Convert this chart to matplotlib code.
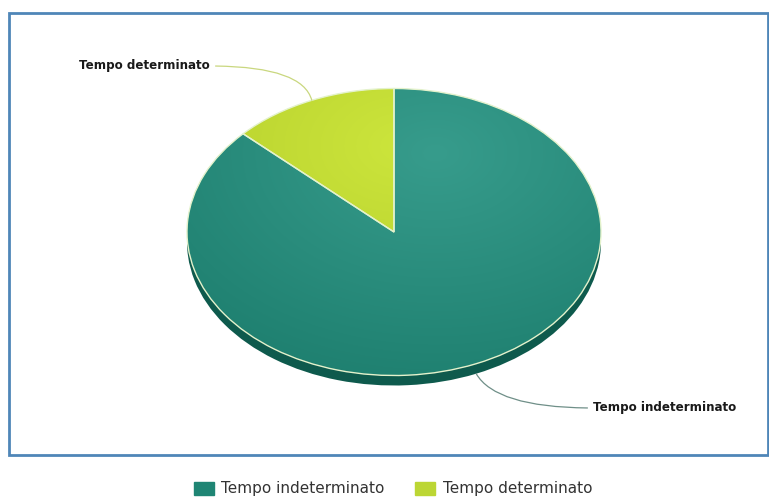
import numpy as np
import matplotlib.pyplot as plt
from matplotlib.patches import Rectangle, Patch
from matplotlib.colors import to_rgb

labels = ["Tempo indeterminato", "Tempo determinato"]
shares = [87.0, 13.0]

light_colors = ["#379c8c", "#cce53c"]
dark_colors = ["#1c7d6d", "#b9d22e"]
side_colors = ["#0e5a4d", "#8ca21f"]
legend_colors = ["#1f8574", "#bcd634"]
leader_colors = ["#6f8f88", "#c9d77e"]

W, H = 769, 499
fig = plt.figure(figsize=(W / 100, H / 100), dpi=100)
fig.patch.set_facecolor("white")

# outer panel frame
fig.add_artist(Rectangle((9 / W, (H - 455) / H), (768 - 9) / W, (455 - 13) / H,
                         transform=fig.transFigure, fill=False,
                         edgecolor="#4f86b8", linewidth=2))

# pie axes: the unit circle gets squashed into the tilted ellipse
cx, cy, rx, ry = 394, 232, 207, 143.5
lim = 1.1
ax = fig.add_axes([(cx - rx * lim) / W, (H - cy - ry * lim) / H,
                   2 * rx * lim / W, 2 * ry * lim / H])
depth = 10 / ry

side, _ = ax.pie(shares, colors=side_colors, startangle=90, counterclock=False,
                 center=(0, -depth), wedgeprops=dict(linewidth=0))
top, _ = ax.pie(shares, colors=dark_colors, startangle=90, counterclock=False,
                wedgeprops=dict(linewidth=0))
ax.set_aspect("auto")
ax.set_xlim(-lim, lim)
ax.set_ylim(-lim, lim)
ax.axis("off")

# shaded fills clipped to each wedge
gx, gy = np.meshgrid(np.linspace(-lim, lim, 400), np.linspace(-lim, lim, 400))
hot_spots = [(0.2, 0.55), (0.05, 0.6)]
spreads = [1.8, 1.1]
for w, lc, dc, hs, sp in zip(top, light_colors, dark_colors, hot_spots, spreads):
    t = np.clip(np.hypot(gx - hs[0], gy - hs[1]) / sp, 0, 1)[..., None]
    img = np.array(to_rgb(lc)) * (1 - t) + np.array(to_rgb(dc)) * t
    im = ax.imshow(img, extent=(-lim, lim, -lim, lim), origin="lower",
                   aspect="auto", zorder=2, interpolation="bilinear")
    im.set_clip_path(w)
    w.set_facecolor("none")
    w.set_edgecolor("#e4f2cc")
    w.set_linewidth(1.0)
    w.set_zorder(3)

for w in side:
    w.set_zorder(1)

# leader lines and labels
label_pos = [(593, 91), (210, 433)]
label_ha = ["left", "right"]
rel = [(0, 0.5), (1, 0.5)]
angles = [-60, 105]
for w, lab, pos, ha, rp, ang, lcol in zip(top, labels, label_pos, label_ha, rel,
                                          angles, leader_colors):
    mid = np.deg2rad((w.theta1 + w.theta2) / 2)
    x, y = np.cos(mid), np.sin(mid)
    if y < 0:
        y -= depth
    ax.annotate(lab, xy=(x, y), xycoords="data", xytext=pos,
                textcoords="figure pixels", ha=ha, va="center",
                fontsize=8.6, fontweight="bold", color="#1a1a1a",
                annotation_clip=False,
                arrowprops=dict(arrowstyle="-", color=lcol, lw=0.9,
                                connectionstyle=f"angle3,angleA=0,angleB={ang}",
                                relpos=rp, shrinkA=2, shrinkB=0))

handles = [Patch(facecolor=c, edgecolor=c) for c in legend_colors]
fig.legend(handles, labels, loc="center", bbox_to_anchor=(393 / W, 10 / H),
           ncol=2, frameon=False, fontsize=11, handlelength=1.3,
           handleheight=0.9, columnspacing=2.0, handletextpad=0.5,
           labelcolor="#333333")

fig.savefig("out.png", dpi=100)
